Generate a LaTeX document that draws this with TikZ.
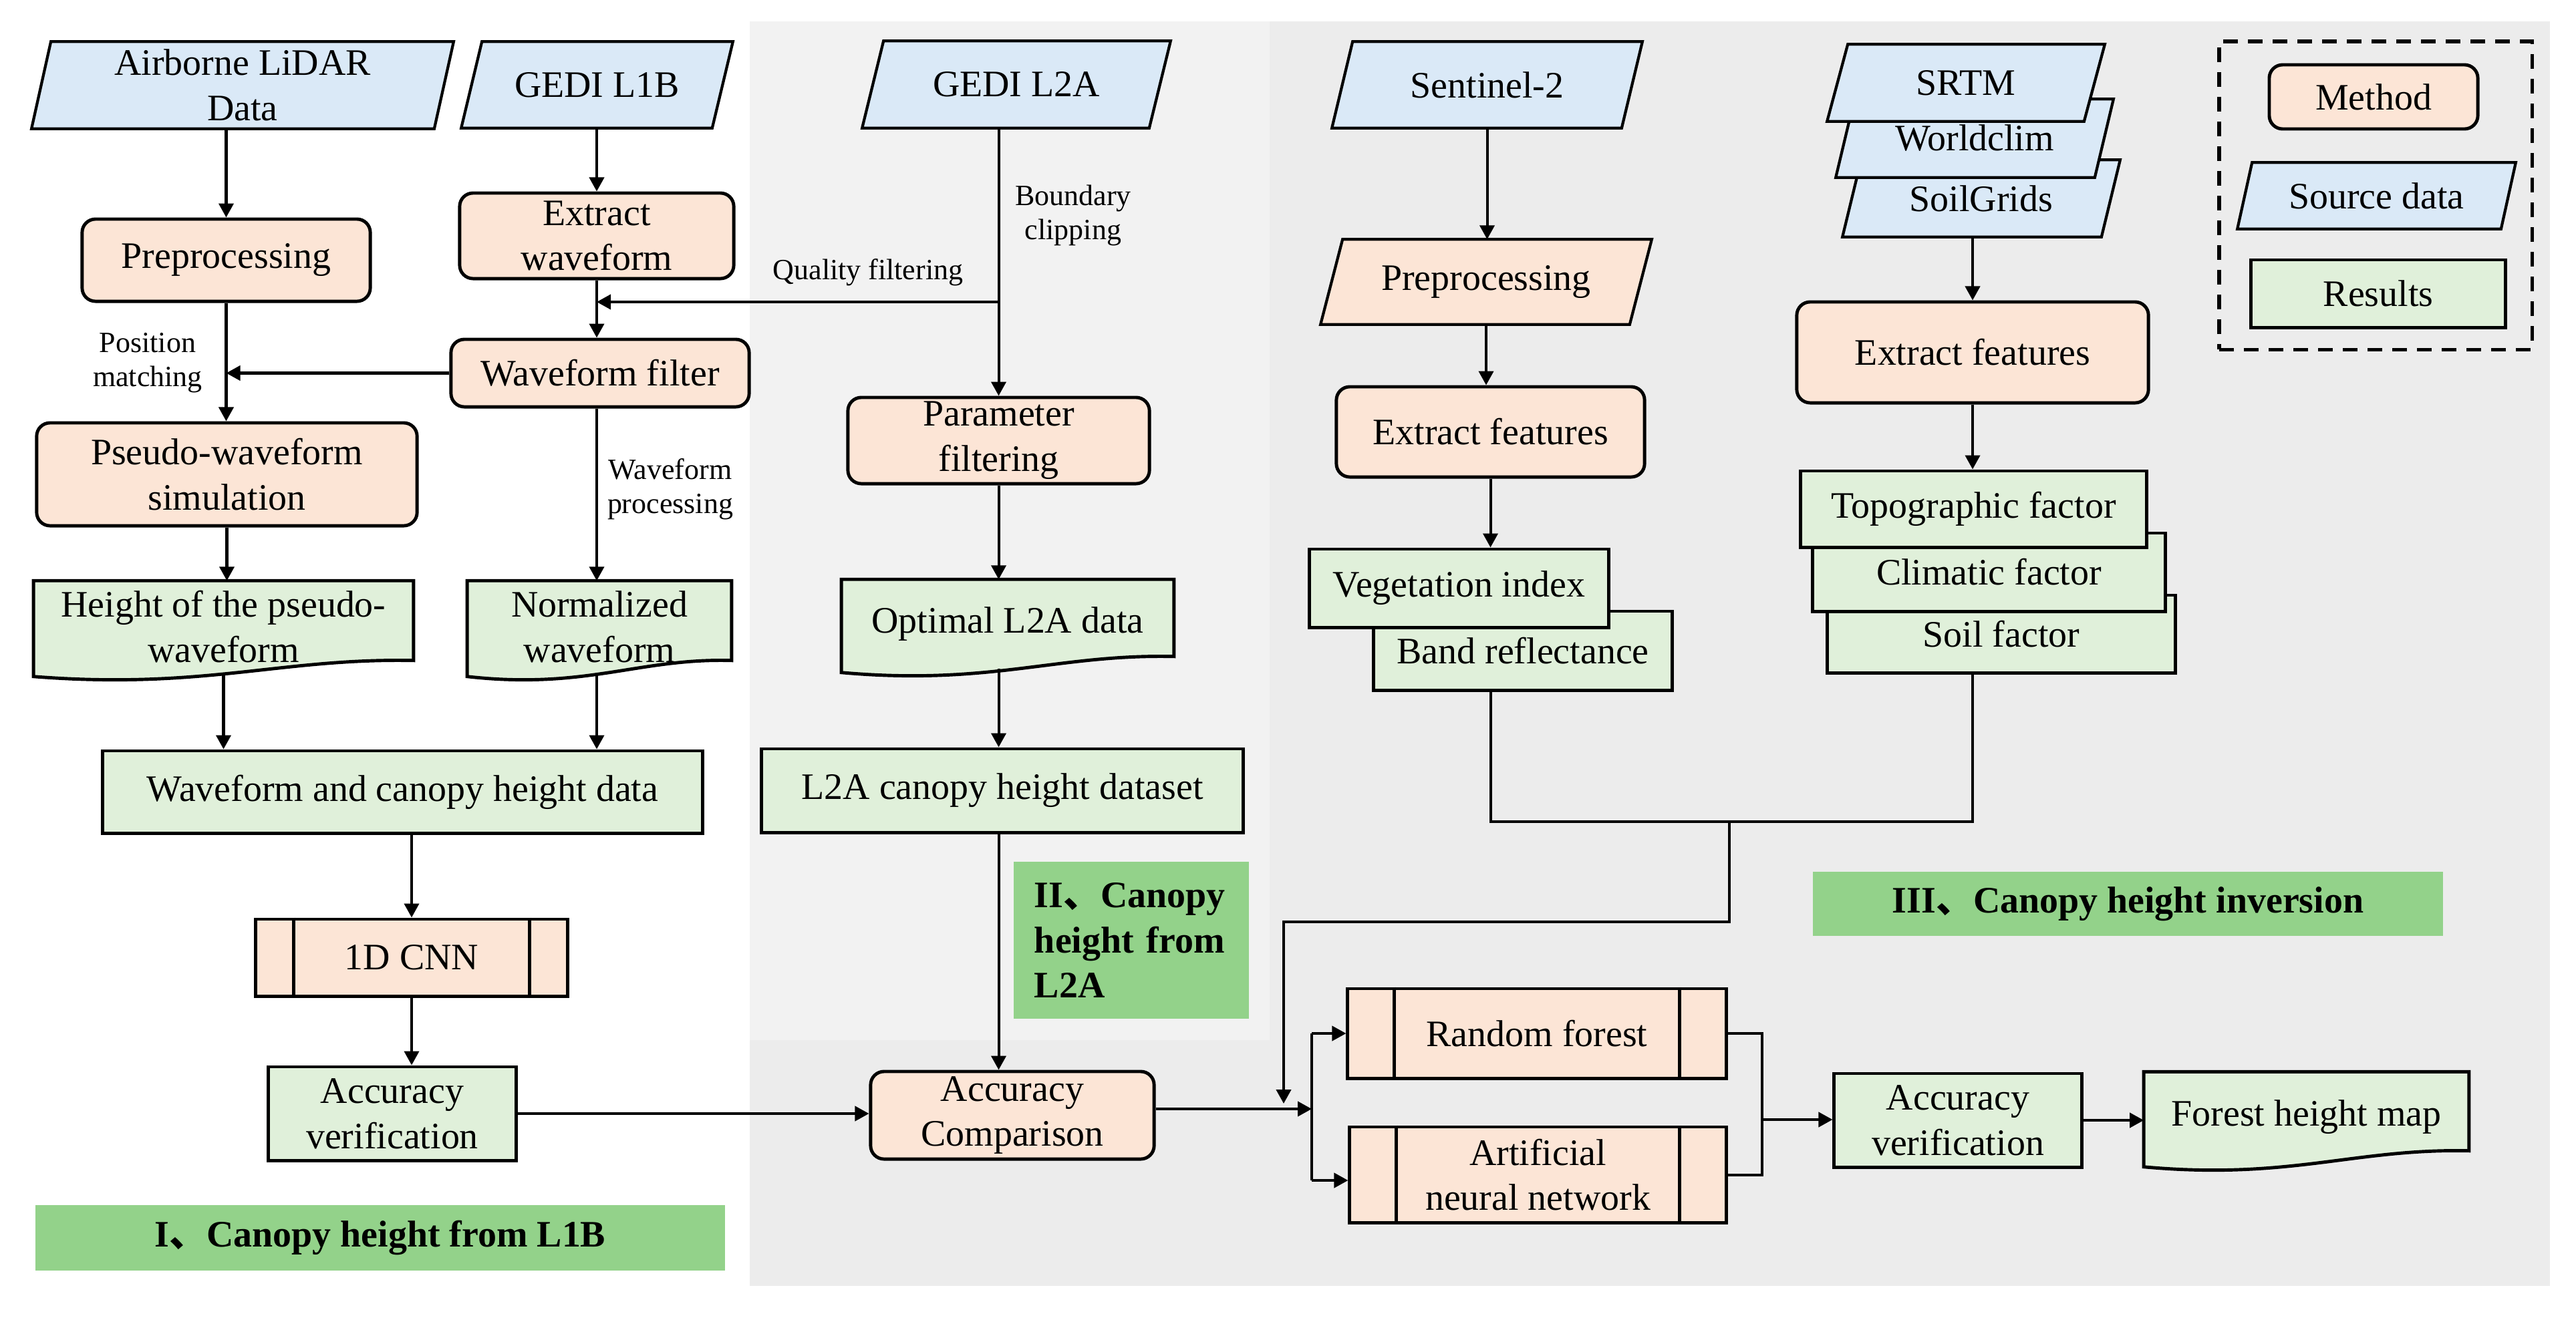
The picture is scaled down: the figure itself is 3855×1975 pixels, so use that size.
\documentclass[tikz,border=0pt]{standalone}
\usepackage{fontspec}
\setmainfont{Liberation Serif}
\newfontfamily\cjkfont{Noto Sans CJK SC}
\usetikzlibrary{arrows.meta,calc}
\pgfdeclarelayer{back}
\pgfdeclarelayer{bg}
\pgfsetlayers{back,bg,main}
\definecolor{blueF}{RGB}{218,233,247}
\definecolor{orF}{RGB}{252,229,214}
\definecolor{grF}{RGB}{224,240,218}
\definecolor{labG}{RGB}{147,210,138}
\definecolor{bgIII}{RGB}{236,236,236}
\definecolor{bgII}{RGB}{242,242,242}
\newcommand\mainf{\fontsize{15.9}{19.3}\selectfont}
\newcommand\smallf{\fontsize{12.5}{14.5}\selectfont}
\newcommand\cjkc{{\cjkfont 、}}
\newcommand\parashape[3]{\draw[line width=1.2pt, fill=#2] ([xshift=#3]#1.north west) -- (#1.north east) -- ([xshift=-#3]#1.south east) -- (#1.south west) -- cycle;}
\newcommand\docshape[2]{\draw[line width=1.4pt, fill=#2] (#1.north west) -- (#1.north east) -- ($(#1.south east)+(0,-18)$) .. controls ($(#1.south east)!0.35!(#1.south west)+(0,-22)$) and ($(#1.south west)!0.45!(#1.south east)+(0,26)$) .. ($(#1.south west)+(0,6)$) -- cycle;}
\begin{document}
\begin{tikzpicture}[x={(0.01cm,0)}, y={(0,-0.01cm)},
  base/.style={inner sep=0pt, align=center, font=\mainf},
  method/.style={base, draw, line width=1.4pt, fill=orF, rounded corners=0.2cm},
  result/.style={base, draw, line width=1.4pt, fill=grF},
  proc/.style={base, draw, line width=1.4pt, fill=orF},
  ptxt/.style={base, draw=none, fill=none},
  lab/.style={base, fill=labG, font=\mainf\bfseries},
  small/.style={inner sep=0pt, align=center, font=\smallf},
  legendbox/.style={draw, line width=1.5pt, dash pattern=on 0.22cm off 0.15cm},
  arr/.style={line width=1.15pt, -{Triangle[length=0.21cm,width=0.22cm]}},
  conn/.style={line width=1.15pt}]
\useasboundingbox (0,0) rectangle (3855,1975);
\begin{pgfonlayer}{back}
\fill[white] (0,0) rectangle (3855,1975);
\fill[bgIII] (1122,32) rectangle (3816,1925);
\fill[bgII] (1122,32) rectangle (1900,1557);
\end{pgfonlayer}

% ---- section I
\node[ptxt, minimum width=6.30cm, minimum height=1.29cm] (air) at (363,127.5) {Airborne LiDAR\\Data};
\node[ptxt, minimum width=4.05cm, minimum height=1.28cm] (l1b) at (893.5,127) {GEDI L1B};
\node[method, minimum width=4.31cm, minimum height=1.23cm] (prep1) at (338.5,389.5) {Preprocessing};
\node[method, minimum width=4.10cm, minimum height=1.28cm] (extw) at (893,353) {Extract\\waveform};
\node[method, minimum width=4.46cm, minimum height=1.01cm] (wfil) at (898,558.5) {Waveform filter};
\node[method, minimum width=5.69cm, minimum height=1.54cm] (pseudo) at (339.5,710) {Pseudo-waveform\\simulation};
\node[ptxt, minimum width=5.67cm, minimum height=1.36cm] (hdoc) at (334.5,938) {Height of the pseudo-\\waveform};
\node[ptxt, minimum width=3.94cm, minimum height=1.36cm] (ndoc) at (897,938) {Normalized\\waveform};
\node[result, minimum width=8.97cm, minimum height=1.23cm] (wch) at (602.5,1185.5) {Waveform and canopy height data};
\node[proc, minimum width=4.66cm, minimum height=1.15cm] (cnn) at (616,1433.5) {1D CNN};
\node[result, minimum width=3.70cm, minimum height=1.40cm] (acc1) at (587,1667) {Accuracy\\verification};
\node[lab, minimum width=10.32cm, minimum height=0.98cm] (lab1) at (569,1853) {I\cjkc Canopy height from L1B};

% ---- section II
\node[ptxt, minimum width=4.60cm, minimum height=1.29cm] (l2a) at (1521,126.5) {GEDI L2A};
\node[method, minimum width=4.51cm, minimum height=1.29cm] (param) at (1494.5,659.5) {Parameter\\filtering};
\node[ptxt, minimum width=4.96cm, minimum height=1.32cm] (odoc) at (1508,934) {Optimal L2A data};
\node[result, minimum width=7.20cm, minimum height=1.25cm] (l2ads) at (1500,1183.5) {L2A canopy height dataset};
\node[lab, minimum width=3.52cm, minimum height=2.35cm, text width=2.90cm, align=left] (lab2) at (1693,1407.5) {II\cjkc Canopy\\height from\\L2A};
\node[method, minimum width=4.24cm, minimum height=1.31cm] (acccomp) at (1515,1669.5) {Accuracy\\Comparison};

% ---- section III
\node[ptxt, minimum width=4.63cm, minimum height=1.28cm] (s2) at (2225.5,127) {Sentinel-2};
\node[ptxt, minimum width=4.94cm, minimum height=1.26cm] (prep2) at (2224,422) {Preprocessing};
\node[method, minimum width=4.61cm, minimum height=1.35cm] (ef1) at (2230.5,646.5) {Extract features};
\node[result, minimum width=4.46cm, minimum height=1.18cm] (br) at (2279,974) {Band reflectance};
\node[result, minimum width=4.47cm, minimum height=1.17cm] (vi) at (2183.5,880.5) {Vegetation index};
\node[ptxt, minimum width=4.14cm, minimum height=1.14cm] (sg) at (2965,297) {SoilGrids};
\node[ptxt, minimum width=4.14cm, minimum height=1.16cm] (wc) at (2955,207) {Worldclim};
\node[ptxt, minimum width=4.14cm, minimum height=1.14cm] (srtm) at (2942,124) {SRTM};
\node[method, minimum width=5.26cm, minimum height=1.51cm] (ef2) at (2952,527.5) {Extract features};
\node[result, minimum width=5.20cm, minimum height=1.16cm] (soil) at (2995,949) {Soil factor};
\node[result, minimum width=5.27cm, minimum height=1.17cm] (clim) at (2976.5,856.5) {Climatic factor};
\node[result, minimum width=5.17cm, minimum height=1.14cm] (topo) at (2953.5,762) {Topographic factor};
\node[proc, minimum width=5.66cm, minimum height=1.34cm] (rf) at (2300,1547) {Random forest};
\node[proc, minimum width=5.63cm, minimum height=1.43cm] (ann) at (2301.5,1758.5) {Artificial\\neural network};
\node[result, minimum width=3.70cm, minimum height=1.40cm] (acc3) at (2930,1677) {Accuracy\\verification};
\node[ptxt, minimum width=4.85cm, minimum height=1.35cm] (fmap) at (3451.5,1672.5) {Forest height map};
\node[lab, minimum width=9.43cm, minimum height=0.96cm] (lab3) at (3184.5,1353) {III\cjkc Canopy height inversion};

% ---- legend
\node[legendbox, minimum width=4.68cm, minimum height=4.61cm] (legend) at (3555,292.5) {};
\node[method, minimum width=3.12cm, minimum height=0.96cm] (lm) at (3552,145) {Method};
\node[ptxt, minimum width=4.15cm, minimum height=0.98cm] (ls) at (3556.5,293) {Source data};
\node[result, minimum width=3.80cm, minimum height=1.01cm] (lr) at (3559,439.5) {Results};

% ---- edge labels
\node[small] (pm) at (221,543) {Position\\matching};
\node[small] (qf) at (1299,408) {Quality filtering};
\node[small] (bcl) at (1606,322) {Boundary\\clipping};
\node[small] (wp) at (1003,732) {Waveform\\processing};

% ---- shapes behind text
\begin{pgfonlayer}{bg}
\parashape{air}{blueF}{0.29cm}
\parashape{l1b}{blueF}{0.31cm}
\parashape{l2a}{blueF}{0.32cm}
\parashape{s2}{blueF}{0.31cm}
\parashape{prep2}{orF}{0.33cm}
\parashape{sg}{blueF}{0.28cm}
\parashape{wc}{blueF}{0.28cm}
\parashape{srtm}{blueF}{0.31cm}
\parashape{ls}{blueF}{0.22cm}
\docshape{hdoc}{grF}
\docshape{ndoc}{grF}
\docshape{odoc}{grF}
\docshape{fmap}{grF}
\end{pgfonlayer}

% predefined process bars
\foreach \n/\d in {cnn/0.59cm, rf/0.72cm, ann/0.72cm} {
  \draw[line width=1.4pt] ([xshift=\d]\n.north west) -- ([xshift=\d]\n.south west);
  \draw[line width=1.4pt] ([xshift=-\d]\n.north east) -- ([xshift=-\d]\n.south east);
}

% ---- junction coordinates
\coordinate (qfj) at (1494.5,452);
\coordinate (j0) at (1963,1660);
\coordinate (j1) at (1963,1547);
\coordinate (j2) at (1963,1767);
\coordinate (mrg) at (2588,1230);
\coordinate (fe) at (1921,1652);
\coordinate (k) at (2637,1676);

% ---- connectors
\draw[arr] (air.south -| prep1.north) -- (prep1.north);
\draw[arr] (l1b.south -| extw.north) -- (extw.north);
\draw[arr] (extw.south) -- (extw.south |- wfil.north);
\draw[arr] (qfj) -- (qfj -| extw.south);
\draw[arr] (l2a.south -| param.north) -- (param.north);
\draw[arr] (wfil.west) -- (wfil.west -| prep1.south);
\draw[arr] (prep1.south) -- (prep1.south |- pseudo.north);
\draw[arr] (wfil.south -| extw.south) -- (ndoc.north -| extw.south);
\draw[arr] (pseudo.south) -- (pseudo.south |- hdoc.north);
\draw[arr] (hdoc.south) -- (hdoc.south |- wch.north);
\draw[arr] (ndoc.south -| extw.south) -- (wch.north -| extw.south);
\draw[arr] (wch.south -| cnn.north) -- (cnn.north);
\draw[arr] (cnn.south) -- (cnn.south |- acc1.north);
\draw[arr] (acc1.east) -- (acc1.east -| acccomp.west);
\draw[arr] (param.south) -- (param.south |- odoc.north);
\draw[arr] (odoc.south -| param.south) -- (l2ads.north -| param.south);
\draw[arr] (l2ads.south -| param.south) -- (acccomp.north -| param.south);
\draw[arr] (acccomp.east |- j0) -- (j0);
\draw[conn] (j1) -- (j2);
\draw[arr] (j1) -- (j1 -| rf.west);
\draw[arr] (j2) -- (j2 -| ann.west);
\draw[conn] (br.south -| ef1.south) |- (mrg) -| (soil.south -| ef2.south);
\draw[arr] (mrg) -- ++(0,150) -| (fe);
\draw[conn] (rf.east) -- (rf.east -| k) -- (ann.east -| k) -- (ann.east);
\draw[arr] (k) -- (k -| acc3.west);
\draw[arr] (acc3.east) -- (acc3.east -| fmap.west);
\draw[arr] (s2.south) -- (s2.south |- prep2.north);
\draw[arr] (prep2.south) -- (prep2.south |- ef1.north);
\draw[arr] (ef1.south) -- (ef1.south |- vi.north);
\draw[arr] (sg.south -| ef2.north) -- (ef2.north);
\draw[arr] (ef2.south) -- (ef2.south |- topo.north);
\end{tikzpicture}
\end{document}
